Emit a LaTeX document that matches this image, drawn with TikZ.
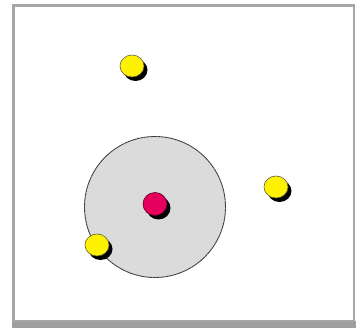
\documentclass[tikz,border=0pt]{standalone}
\usetikzlibrary{shapes.geometric}
\definecolor{nucred}{RGB}{228,0,92}
\begin{document}
\begin{tikzpicture}[x=1pt,y=-1pt,
  shadowdot/.style={fill=black},
  yellowdot/.style={fill=yellow,draw=black!70!yellow,line width=0.6pt},
  reddot/.style={fill=nucred,draw=black!60!nucred,line width=0.6pt}]
\useasboundingbox (0,0) rectangle (356,328);
% frame with shadow
\fill[gray!75] (12,321) rectangle (356,328);
\draw[gray!70,line width=2.2pt] (13.5,5.5) rectangle (354,321);
% large circle
\node[circle,draw=black!75,fill=gray!28,line width=0.9pt,dashed,dash pattern=on 3pt off 0.4pt,minimum size=141pt,inner sep=0pt] (orb) at (155,207) {};
% nucleus
\fill[shadowdot] (158.5,208) ellipse (12pt and 11.5pt);
\node[reddot,ellipse,minimum width=24pt,minimum height=23pt,inner sep=0pt] (nuc) at (155,204) {};
% electrons
\fill[shadowdot] (135.5,70) ellipse (12pt and 11pt);
\node[yellowdot,ellipse,minimum width=24pt,minimum height=22pt,inner sep=0pt] (e1) at (132,66) {};
\fill[shadowdot] (279.5,191) ellipse (12pt and 11pt);
\node[yellowdot,ellipse,minimum width=24pt,minimum height=22pt,inner sep=0pt] (e2) at (276,187) {};
\fill[shadowdot] (100.5,249) ellipse (12pt and 11pt);
\node[yellowdot,ellipse,minimum width=24pt,minimum height=22pt,inner sep=0pt] (e3) at (97,245) {};
\end{tikzpicture}
\end{document}
